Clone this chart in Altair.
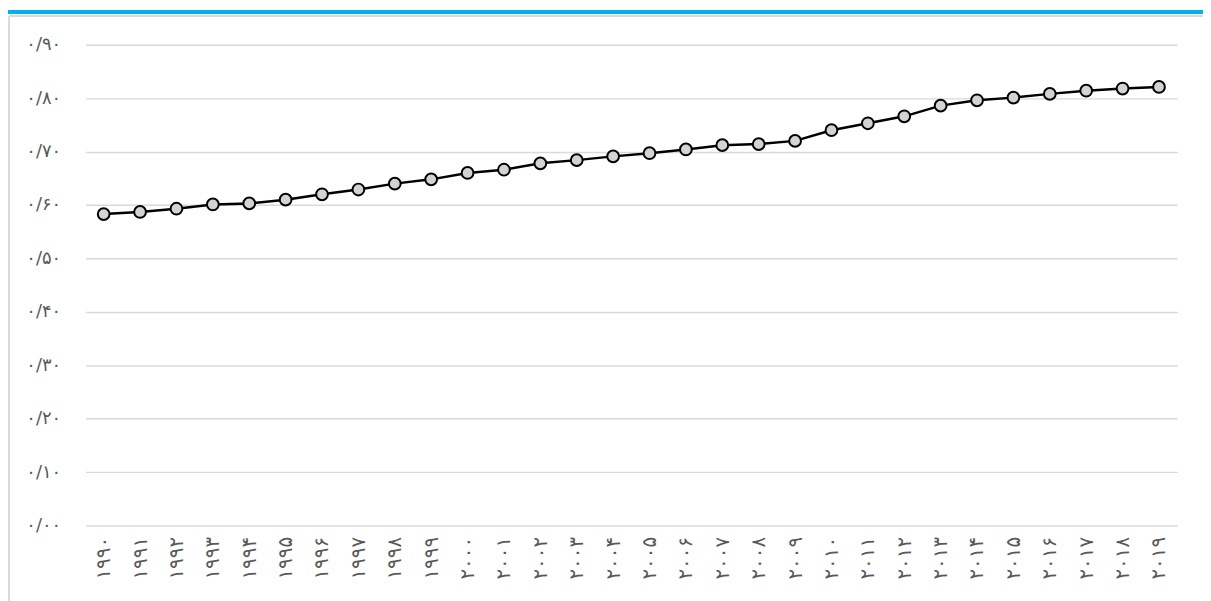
import altair as alt
import pandas as pd

years = list(range(1990, 2020))
values = [0.583, 0.587, 0.593, 0.601, 0.603, 0.610, 0.620, 0.629, 0.640, 0.648,
          0.660, 0.666, 0.678, 0.684, 0.691, 0.697, 0.704, 0.712, 0.714, 0.720,
          0.740, 0.753, 0.766, 0.786, 0.796, 0.801, 0.808, 0.814, 0.818, 0.821]
y_ticks = [0.0, 0.1, 0.2, 0.3, 0.4, 0.5, 0.6, 0.7, 0.8, 0.9]
y_labels = ["۰/۰۰", "۰/۱۰", "۰/۲۰", "۰/۳۰", "۰/۴۰", "۰/۵۰", "۰/۶۰", "۰/۷۰", "۰/۸۰", "۰/۹۰"]

fa_digits = "۰۱۲۳۴۵۶۷۸۹"
year_labels = ["".join(fa_digits[int(c)] for c in str(y)) for y in years]

df = pd.DataFrame({"year": year_labels, "value": values})

FONT = "DejaVu Sans"
label_expr = "[" + ",".join("'" + s + "'" for s in y_labels) + "][round(datum.value*10)]"

x_enc = alt.X("year:O", sort=None, scale=alt.Scale(type="point", padding=0.5),
              axis=alt.Axis(title=None, labelAngle=-90, labelPadding=11, ticks=False,
                            domain=False, labelFont=FONT, labelFontSize=20,
                            labelColor="#595959", grid=False))
y_enc = alt.Y("value:Q", scale=alt.Scale(domain=[0, 0.9], nice=False, zero=True),
              axis=alt.Axis(title=None, values=y_ticks, labelExpr=label_expr,
                            ticks=False, domain=False, labelPadding=25,
                            labelFont=FONT, labelFontSize=18, labelColor="#595959",
                            grid=True, gridColor="#D9D9D9", gridWidth=1.5))

base = alt.Chart(df)
line = base.mark_line(color="black", strokeWidth=2.5).encode(x=x_enc, y=y_enc)
pts = base.mark_point(shape="circle", filled=True, fill="#D3D3D3", stroke="black",
                      strokeWidth=2, size=140, opacity=1).encode(x=x_enc, y=y_enc)

band = alt.Chart(pd.DataFrame({"a": [0]})).mark_rect(color="#00B0F0").encode(
    x=alt.value(-78), x2=alt.value(1125), y=alt.value(-35), y2=alt.value(-31))
frame_top = alt.Chart(pd.DataFrame({"a": [0]})).mark_rule(color="#D9D9D9", strokeWidth=2).encode(
    x=alt.value(-77), x2=alt.value(1125), y=alt.value(-29))
frame_left = alt.Chart(pd.DataFrame({"a": [0]})).mark_rule(color="#D9D9D9", strokeWidth=2).encode(
    x=alt.value(-77), y=alt.value(-29), y2=alt.value(560))

chart = alt.layer(band, frame_top, frame_left, line, pts).properties(
    width=1099, height=484,
    autosize=alt.AutoSizeParams(type="none"),
    padding={"left": 78, "top": 35, "right": 26, "bottom": 74},
    background="white",
).configure_view(stroke=None)

chart.save("out.html", embed_options={"renderer": "svg", "actions": False})
